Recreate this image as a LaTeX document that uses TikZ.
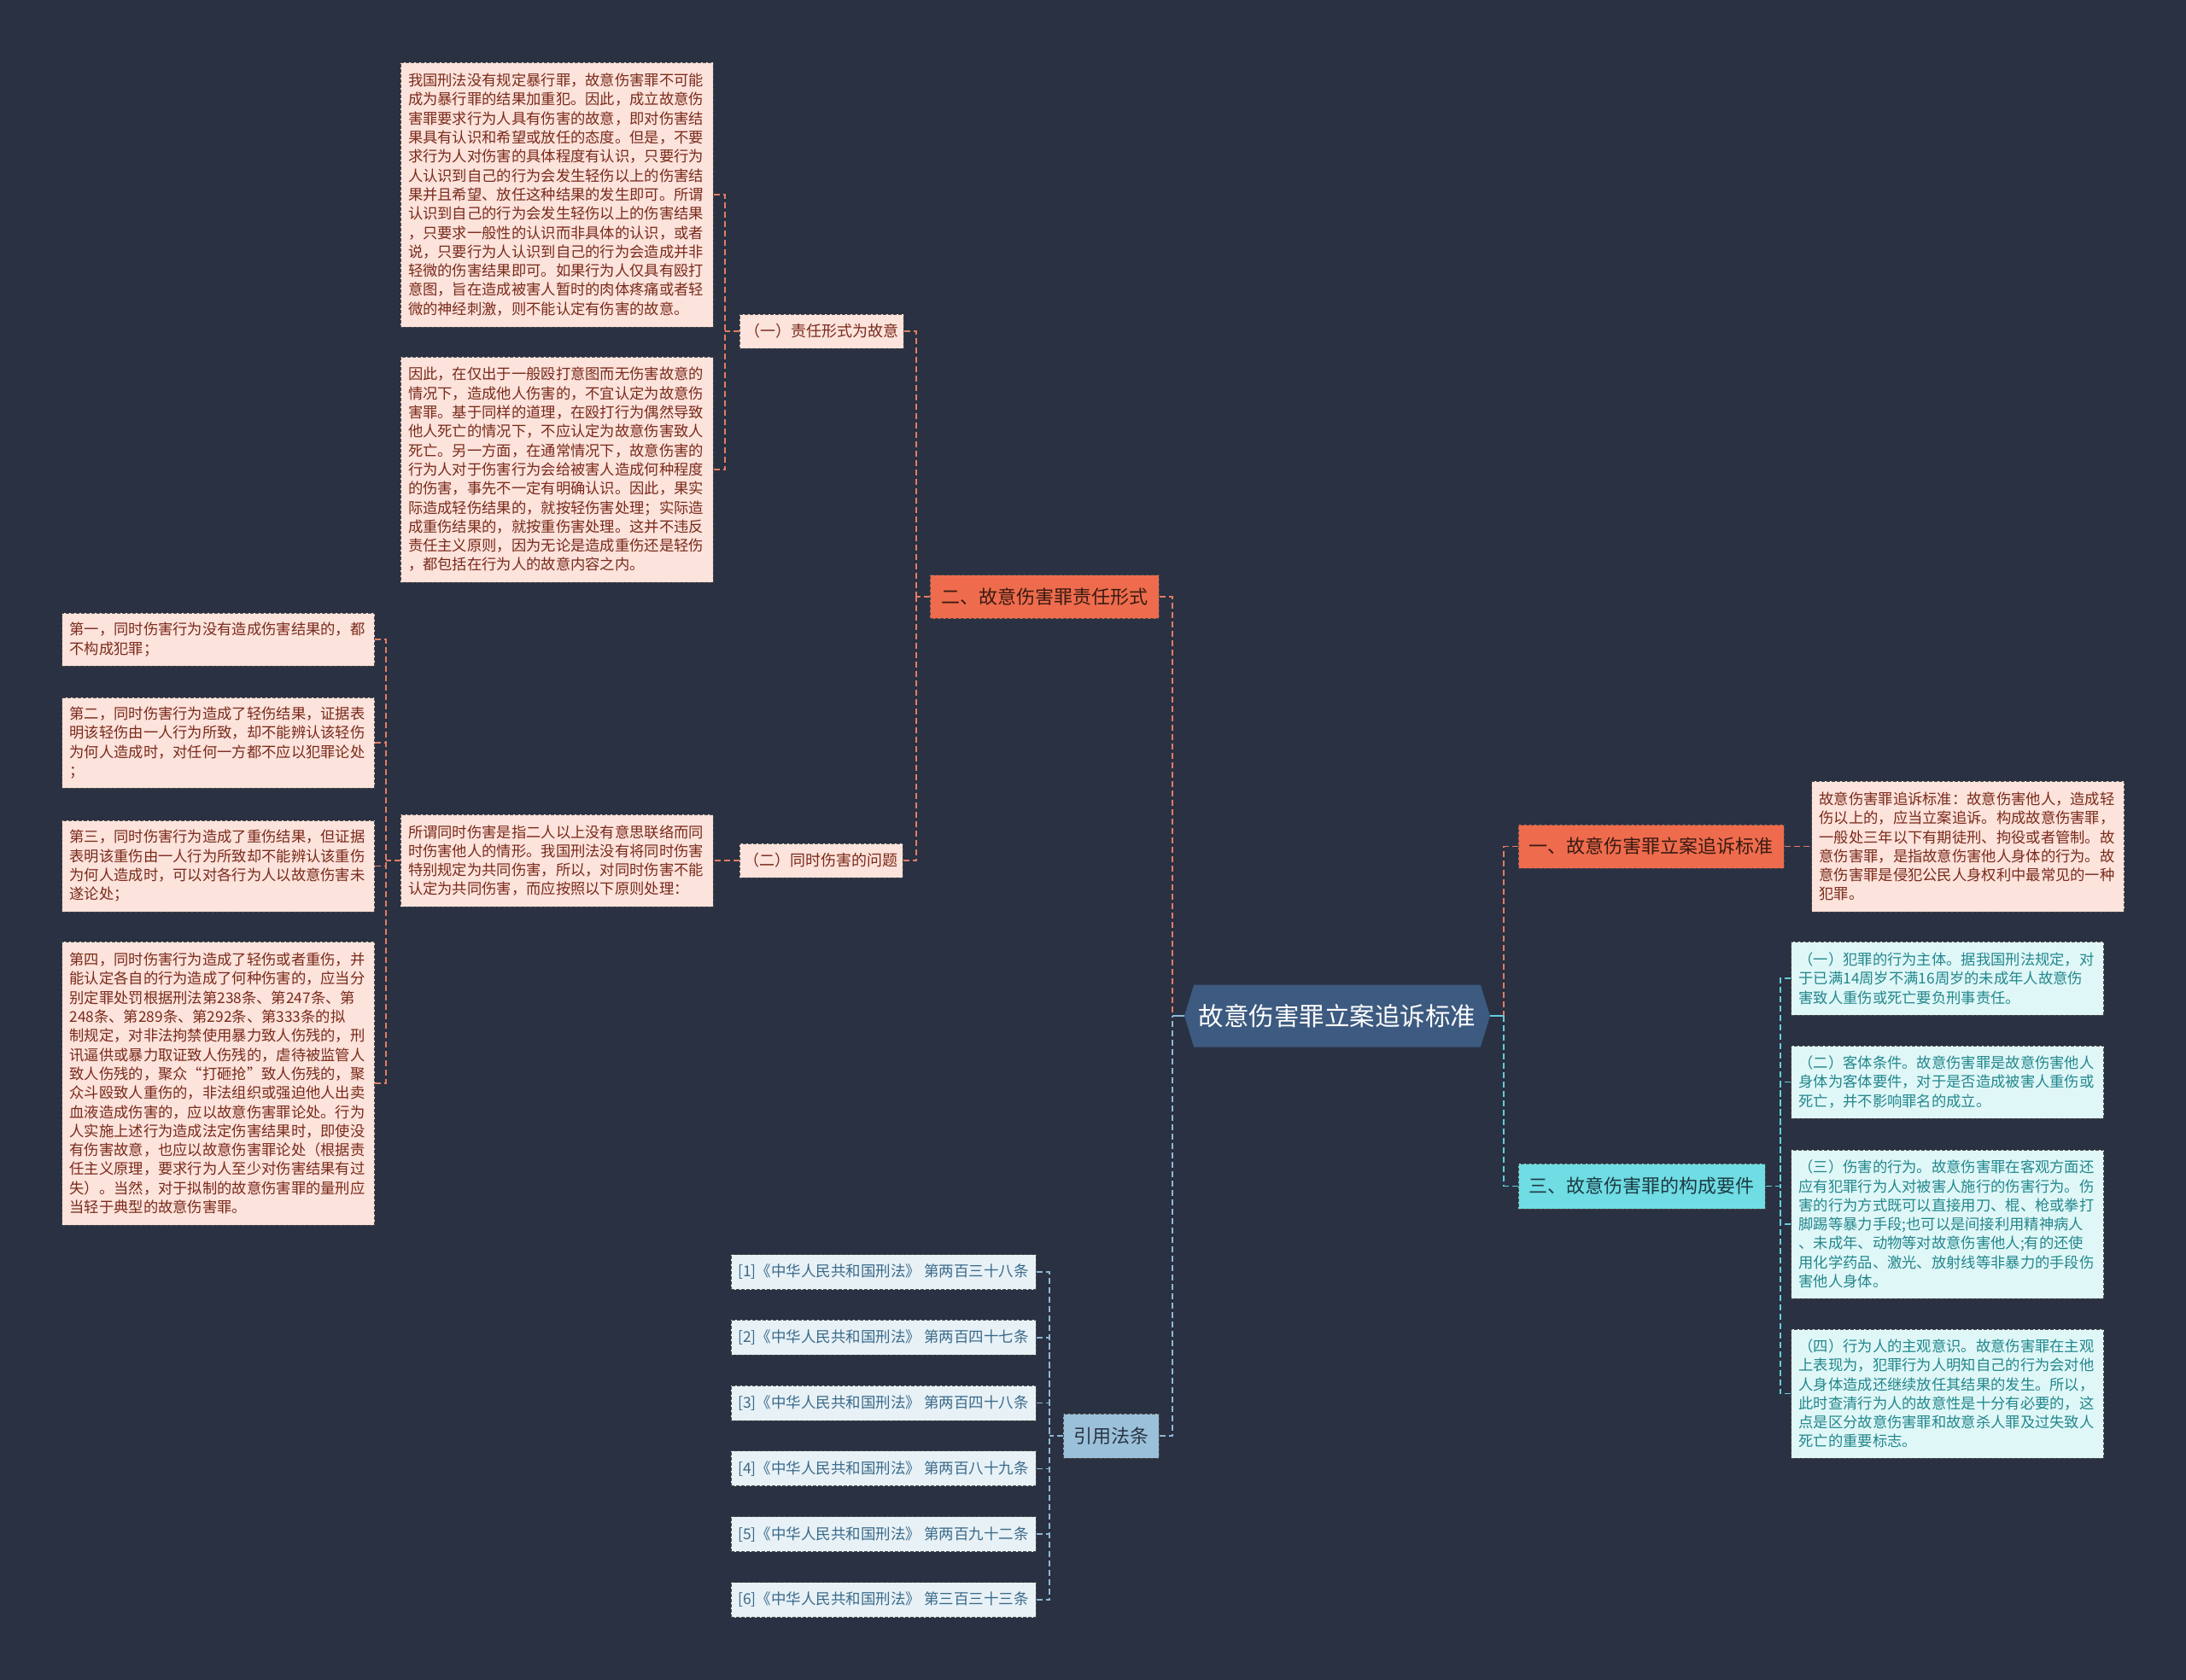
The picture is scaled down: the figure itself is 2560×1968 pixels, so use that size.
\documentclass[tikz,border=0pt]{standalone}
\usepackage{fontspec}
\setmainfont{Noto Sans CJK SC}
\usepackage{xcolor}
\usepackage{tikz}
\usetikzlibrary{shapes.symbols, positioning}

\definecolor{bgnavy}{HTML}{2A3142}
\definecolor{rootblue}{HTML}{3D5A80}
\definecolor{coral}{HTML}{EE6C4D}
\definecolor{coraltext}{HTML}{3A1A12}
\definecolor{peach}{HTML}{FCE3DC}
\definecolor{peachtext}{HTML}{7A2A1A}
\definecolor{aqua}{HTML}{6FDDE3}
\definecolor{aquatext}{HTML}{1D3A44}
\definecolor{paleaqua}{HTML}{E0F7F8}
\definecolor{tealtext}{HTML}{22878C}
\definecolor{skyblue}{HTML}{9BC1DA}
\definecolor{skytext}{HTML}{2A3443}
\definecolor{paleblue}{HTML}{E7F1F6}
\definecolor{slatetext}{HTML}{3B6A8A}
\definecolor{coralline}{HTML}{E27D64}
\definecolor{aqualine}{HTML}{62CFD9}
\definecolor{skyline}{HTML}{8EB8D4}

\tikzstyle{card} = [rectangle, draw=black!70, dash pattern=on 4pt off 2pt, line width=1pt]
\tikzstyle{rootnode} = [
  signal, signal to=east and west, signal pointer angle=146,
  fill=rootblue, text=white, inner sep=0pt,
  minimum width=358pt, minimum height=73pt,
  font=\fontsize{29.5}{34}\selectfont
]
\tikzstyle{topicred} = [card, fill=coral, text=coraltext, minimum height=51pt, font=\fontsize{22}{26}\selectfont]
\tikzstyle{topicaqua} = [card, fill=aqua, text=aquatext, minimum height=53pt, font=\fontsize{22}{26}\selectfont]
\tikzstyle{topicsky} = [card, fill=skyblue, text=skytext, minimum height=52pt, font=\fontsize{22}{26}\selectfont]
\tikzstyle{subred} = [card, fill=peach, text=peachtext, minimum height=40pt, font=\fontsize{18}{22}\selectfont]
\tikzstyle{notered} = [
  card, fill=peach, text=peachtext, align=left,
  text width=348pt, inner xsep=9pt, font=\fontsize{17.3}{22.3}\selectfont
]
\tikzstyle{noteaqua} = [
  card, fill=paleaqua, text=tealtext, align=left,
  text width=348pt, inner xsep=9pt, font=\fontsize{17.3}{22.3}\selectfont
]
\tikzstyle{lawnote} = [card, fill=paleblue, text=slatetext, minimum width=357pt, minimum height=41pt, font=\fontsize{17.5}{22}\selectfont]
\tikzstyle{redlink} = [draw=coralline, line width=1.5pt, dash pattern=on 7pt off 4pt]
\tikzstyle{aqualink} = [draw=aqualine, line width=1.5pt, dash pattern=on 7pt off 4pt]
\tikzstyle{skylink} = [draw=skyline, line width=1.5pt, dash pattern=on 7pt off 4pt]

\begin{document}
\begin{tikzpicture}[x=1pt, y=-1pt]

  \fill[bgnavy] (0, 0) rectangle (2560, 1968);

  % Root and main topics
  \node[rootnode] (root) at (1566, 1190) {故意伤害罪立案追诉标准};
  \node[topicred, minimum width=268pt] (form) at (1223, 699) {二、故意伤害罪责任形式};
  \node[topicred, minimum width=311pt] (standard) at (1933.5, 991.5) {一、故意伤害罪立案追诉标准};
  \node[topicaqua, minimum width=289pt] (elements) at (1922.5, 1389.5) {三、故意伤害罪的构成要件};
  \node[topicsky, minimum width=112pt] (laws) at (1301, 1682) {引用法条};

  \coordinate (lj) at (1373, 1190);
  \coordinate (rj) at (1761, 1190);

  % Left: responsibility form
  \node[subred, minimum width=192pt] (intent) at (962, 388) {（一）责任形式为故意};
  \node[subred, minimum width=191pt] (joint) at (961.5, 1008) {（二）同时伤害的问题};

  \node[notered, minimum height=310pt] (intenta) at (652, 228) {我国刑法没有规定暴行罪，故意伤害罪不可能\\
成为暴行罪的结果加重犯。因此，成立故意伤\\
害罪要求行为人具有伤害的故意，即对伤害结\\
果具有认识和希望或放任的态度。但是，不要\\
求行为人对伤害的具体程度有认识，只要行为\\
人认识到自己的行为会发生轻伤以上的伤害结\\
果并且希望、放任这种结果的发生即可。所谓\\
认识到自己的行为会发生轻伤以上的伤害结果\\
，只要求一般性的认识而非具体的认识，或者\\
说，只要行为人认识到自己的行为会造成并非\\
轻微的伤害结果即可。如果行为人仅具有殴打\\
意图，旨在造成被害人暂时的肉体疼痛或者轻\\
微的神经刺激，则不能认定有伤害的故意。};
  \node[notered, minimum height=264pt] (intentb) at (652, 550) {因此，在仅出于一般殴打意图而无伤害故意的\\
情况下，造成他人伤害的，不宜认定为故意伤\\
害罪。基于同样的道理，在殴打行为偶然导致\\
他人死亡的情况下，不应认定为故意伤害致人\\
死亡。另一方面，在通常情况下，故意伤害的\\
行为人对于伤害行为会给被害人造成何种程度\\
的伤害，事先不一定有明确认识。因此，果实\\
际造成轻伤结果的，就按轻伤害处理；实际造\\
成重伤结果的，就按重伤害处理。这并不违反\\
责任主义原则，因为无论是造成重伤还是轻伤\\
，都包括在行为人的故意内容之内。};
  \node[notered, minimum height=108pt] (jointdef) at (652, 1008) {所谓同时伤害是指二人以上没有意思联络而同\\
时伤害他人的情形。我国刑法没有将同时伤害\\
特别规定为共同伤害，所以，对同时伤害不能\\
认定为共同伤害，而应按照以下原则处理：};

  \node[notered, minimum height=62pt] (rule1) at (255.5, 749) {第一，同时伤害行为没有造成伤害结果的，都\\
不构成犯罪；};
  \node[notered, minimum height=106pt] (rule2) at (255.5, 870) {第二，同时伤害行为造成了轻伤结果，证据表\\
明该轻伤由一人行为所致，却不能辨认该轻伤\\
为何人造成时，对任何一方都不应以犯罪论处\\
；};
  \node[notered, minimum height=107pt] (rule3) at (255.5, 1014.5) {第三，同时伤害行为造成了重伤结果，但证据\\
表明该重伤由一人行为所致却不能辨认该重伤\\
为何人造成时，可以对各行为人以故意伤害未\\
遂论处；};
  \node[notered, minimum height=332pt] (rule4) at (255.5, 1269) {第四，同时伤害行为造成了轻伤或者重伤，并\\
能认定各自的行为造成了何种伤害的，应当分\\
别定罪处罚根据刑法第238条、第247条、第\\
248条、第289条、第292条、第333条的拟\\
制规定，对非法拘禁使用暴力致人伤残的，刑\\
讯逼供或暴力取证致人伤残的，虐待被监管人\\
致人伤残的，聚众“打砸抢”致人伤残的，聚\\
众斗殴致人重伤的，非法组织或强迫他人出卖\\
血液造成伤害的，应以故意伤害罪论处。行为\\
人实施上述行为造成法定伤害结果时，即使没\\
有伤害故意，也应以故意伤害罪论处（根据责\\
任主义原理，要求行为人至少对伤害结果有过\\
失）。当然，对于拟制的故意伤害罪的量刑应\\
当轻于典型的故意伤害罪。};

  \coordinate (formj) at (1073, 699);
  \coordinate (intentj) at (849, 388);
  \coordinate (jointj) at (452, 1008);

  % Right: standard and elements
  \node[notered, minimum height=153pt] (stdtext) at (2304.5, 991.5) {故意伤害罪追诉标准：故意伤害他人，造成轻\\
伤以上的，应当立案追诉。构成故意伤害罪，\\
一般处三年以下有期徒刑、拘役或者管制。故\\
意伤害罪，是指故意伤害他人身体的行为。故\\
意伤害罪是侵犯公民人身权利中最常见的一种\\
犯罪。};

  \node[noteaqua, minimum height=86pt] (part1) at (2280.5, 1146) {（一）犯罪的行为主体。据我国刑法规定，对\\
于已满14周岁不满16周岁的未成年人故意伤\\
害致人重伤或死亡要负刑事责任。};
  \node[noteaqua, minimum height=85pt] (part2) at (2280.5, 1267.5) {（二）客体条件。故意伤害罪是故意伤害他人\\
身体为客体要件，对于是否造成被害人重伤或\\
死亡，并不影响罪名的成立。};
  \node[noteaqua, minimum height=174pt] (part3) at (2280.5, 1434) {（三）伤害的行为。故意伤害罪在客观方面还\\
应有犯罪行为人对被害人施行的伤害行为。伤\\
害的行为方式既可以直接用刀、棍、枪或拳打\\
脚踢等暴力手段;也可以是间接利用精神病人\\
、未成年、动物等对故意伤害他人;有的还使\\
用化学药品、激光、放射线等非暴力的手段伤\\
害他人身体。};
  \node[noteaqua, minimum height=151pt] (part4) at (2280.5, 1632.5) {（四）行为人的主观意识。故意伤害罪在主观\\
上表现为，犯罪行为人明知自己的行为会对他\\
人身体造成还继续放任其结果的发生。所以，\\
此时查清行为人的故意性是十分有必要的，这\\
点是区分故意伤害罪和故意杀人罪及过失致人\\
死亡的重要标志。};

  \coordinate (elemj) at (2085, 1389.5);

  % Cited articles
  \foreach \idx/\artno in {1/两百三十八, 2/两百四十七, 3/两百四十八, 4/两百八十九, 5/两百九十二, 6/三百三十三}
    \node[lawnote] (law\idx) at (1034.5, {1490 + 76.8*(\idx-1)}) {[\idx]《中华人民共和国刑法》 第\artno 条};

  \coordinate (lawj) at (1229, 1682);

  % Links
  \draw[redlink] (form.east) -| (lj);
  \draw[skylink] (laws.east) -| (lj);
  \draw[skyline, line width=2pt] (root.west) -- (lj);
  \draw[redlink] (standard.west) -| (rj);
  \draw[aqualink] (elements.west) -| (rj);
  \draw[aqualine, line width=2pt] (root.east) -- (rj);

  \draw[redlink] (form.west) -- (formj);
  \draw[redlink] (intent.east) -| (formj);
  \draw[redlink] (joint.east) -| (formj);
  \draw[redlink] (intent.west) -- (intentj);
  \draw[redlink] (intenta.east) -| (intentj);
  \draw[redlink] (intentb.east) -| (intentj);
  \draw[redlink] (joint.west) -- (jointdef.east);
  \draw[redlink] (jointdef.west) -- (jointj);
  \foreach \r in {1, 2, 3, 4}
    \draw[redlink] (rule\r.east) -| (jointj);

  \draw[redlink] (standard.east) -- (stdtext.west);
  \draw[aqualink] (elements.east) -- (elemj);
  \foreach \p in {1, 2, 3, 4}
    \draw[aqualink] (part\p.west) -| (elemj);

  \draw[skylink] (laws.west) -- (lawj);
  \foreach \idx in {1, ..., 6}
    \draw[skylink] (law\idx.east) -| (lawj);

\end{tikzpicture}
\end{document}
